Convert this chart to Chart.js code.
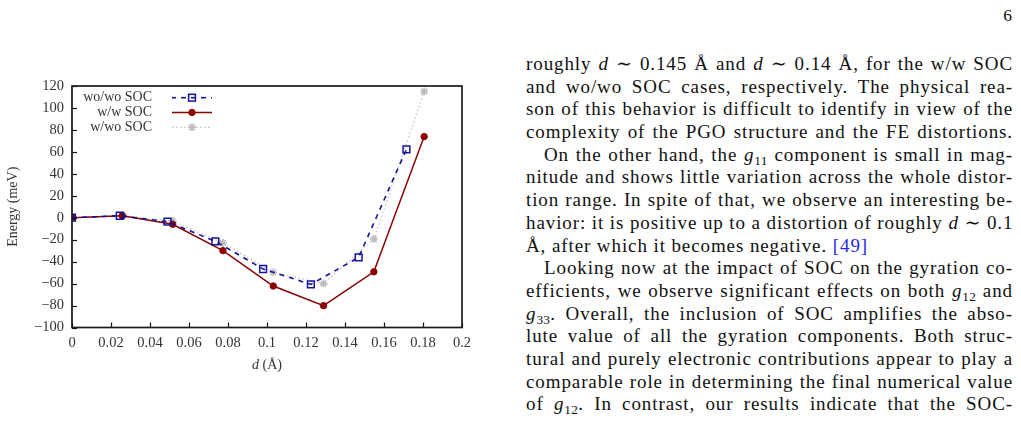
<!DOCTYPE html>
<html>
<head>
<meta charset="utf-8">
<script src="https://cdn.jsdelivr.net/npm/chart.js@4/dist/chart.umd.min.js"></script>
<style>
  html, body { margin:0; padding:0; background:#fff; }
  body { width:1021px; height:423px; position:relative; overflow:hidden; }
  #chartBox { position:absolute; left:0; top:0; width:500px; height:423px; }
  #text { position:absolute; left:526px; top:53px; width:487px;
          font-family:"Liberation Serif", "DejaVu Serif", serif; font-size:19px;
          letter-spacing:0.9px;
          line-height:22.7px; color:#111; }
  #text .l { white-space:nowrap; text-align:justify; text-align-last:justify; height:22.7px; }
  #text .l.last { text-align-last:left; }
  #text .ind { padding-left:18px; }
  #text i { font-style:italic; }
  #text sub { font-size:70%; line-height:0; vertical-align:-0.28em; letter-spacing:0.3px; }
  #text .ref { color:#2a2ae0; }
  #pg { position:absolute; right:9px; top:5px; font-family:"Liberation Serif", serif;
        font-size:17.5px; line-height:20px; color:#111; }
</style>
</head>
<body>
<div id="pg">6</div>
<div id="chartBox"><canvas id="c" width="500" height="423"></canvas></div>
<div id="text">
  <div class="l">roughly <i>d</i> ∼ 0.145 Å and <i>d</i> ∼ 0.14 Å, for the w/w SOC</div>
  <div class="l">and wo/wo SOC cases, respectively. The physical rea-</div>
  <div class="l">son of this behavior is difficult to identify in view of the</div>
  <div class="l">complexity of the PGO structure and the FE distortions.</div>
  <div class="l ind">On the other hand, the <i>g</i><sub>11</sub> component is small in mag-</div>
  <div class="l">nitude and shows little variation across the whole distor-</div>
  <div class="l">tion range. In spite of that, we observe an interesting be-</div>
  <div class="l">havior: it is positive up to a distortion of roughly <i>d</i> ∼ 0.1</div>
  <div class="l last">Å, after which it becomes negative. <span class="ref">[49]</span></div>
  <div class="l ind">Looking now at the impact of SOC on the gyration co-</div>
  <div class="l">efficients, we observe significant effects on both <i>g</i><sub>12</sub> and</div>
  <div class="l"><i>g</i><sub>33</sub>. Overall, the inclusion of SOC amplifies the abso-</div>
  <div class="l">lute value of all the gyration components. Both struc-</div>
  <div class="l">tural and purely electronic contributions appear to play a</div>
  <div class="l">comparable role in determining the final numerical value</div>
  <div class="l">of <i>g</i><sub>12</sub>. In contrast, our results indicate that the SOC-</div>
</div>
<script>
// ---- data ----
const seriesNames = ['wo/wo SOC', 'w/w SOC', 'w/wo SOC'];
const dWoWo = [0, 0.0245, 0.049, 0.0735, 0.098, 0.1225, 0.147, 0.1715];
const eWoWo = [0, 1.8, -3.6, -21.5, -46.7, -60.7, -36.1, 62.3];
const dWW   = [0, 0.0258, 0.0516, 0.0774, 0.1032, 0.129, 0.1548, 0.1806];
const eWW   = [0, 1.8, -6.0, -30.0, -62.2, -80.1, -49.3, 73.9];
const dWWo  = [0, 0.0258, 0.0516, 0.0774, 0.1032, 0.129, 0.1548, 0.1806];
const eWWo  = [0, 2.0, -3.0, -23.0, -49.7, -60.0, -19.4, 115.0];
const xTickMin = 0, xTickMax = 0.2, xTickStep = 0.02;
const yTickMin = -100, yTickMax = 120, yTickStep = 20;
const xTitle = ['d', ' (Å)'];
const yTitle = 'Energy (meV)';

const pts = (xs, ys) => xs.map((x, i) => ({x: x, y: ys[i]}));
const SERIF = '"Liberation Serif", "DejaVu Serif", serif';

const framePlugin = {
  id: 'frame',
  afterDraw(chart) {
    const {ctx, chartArea: a, scales} = chart;
    ctx.save();
    // inward tick marks on left and bottom axes
    ctx.strokeStyle = '#111'; ctx.lineWidth = 1.2;
    scales.y.ticks.forEach(t => {
      const py = Math.round(scales.y.getPixelForValue(t.value)) + 0.5;
      ctx.beginPath(); ctx.moveTo(a.left, py); ctx.lineTo(a.left + 5, py); ctx.stroke();
    });
    scales.x.ticks.forEach(t => {
      const px = Math.round(scales.x.getPixelForValue(t.value)) + 0.5;
      ctx.beginPath(); ctx.moveTo(px, a.bottom); ctx.lineTo(px, a.bottom - 5); ctx.stroke();
    });
    // frame
    ctx.strokeStyle = '#1a1a1a'; ctx.lineWidth = 1.7;
    ctx.strokeRect(a.left, a.top, a.right - a.left, a.bottom - a.top);
    // x axis title with italic d
    ctx.fillStyle = '#333';
    ctx.textBaseline = 'middle';
    ctx.font = 'italic 14px ' + SERIF;
    const w1 = ctx.measureText(xTitle[0]).width;
    ctx.font = '14px ' + SERIF;
    const w2 = ctx.measureText(xTitle[1]).width;
    const cx = (a.left + a.right) / 2, ty = 365;
    let sx = cx - (w1 + w2) / 2;
    ctx.textAlign = 'left';
    ctx.font = 'italic 14px ' + SERIF;
    ctx.fillText(xTitle[0], sx, ty);
    ctx.font = '14px ' + SERIF;
    ctx.fillText(xTitle[1], sx + w1, ty);
    // legend (text right-aligned, sample on the right)
    const rows = [97.7, 112.5, 127.3];
    chart.data.datasets.forEach((ds, i) => {
      const y = rows[i];
      ctx.fillStyle = '#333';
      ctx.font = '14px ' + SERIF;
      ctx.textAlign = 'right';
      ctx.textBaseline = 'middle';
      ctx.fillText(ds.label, 152, y);
      ctx.strokeStyle = ds.borderColor;
      ctx.lineWidth = ds.borderWidth;
      ctx.setLineDash(ds.borderDash || []);
      ctx.lineDashOffset = ds.legendDashOffset || 0;
      ctx.beginPath(); ctx.moveTo(172, y); ctx.lineTo(212, y); ctx.stroke();
      ctx.setLineDash([]);
      const mx = 192, r = ds.pointRadius;
      ctx.strokeStyle = ds.pointBorderColor; ctx.fillStyle = ds.pointBackgroundColor;
      ctx.lineWidth = ds.pointBorderWidth;
      if (ds.pointStyle === 'rect') {
        const s = r * Math.SQRT1_2;
        ctx.strokeRect(mx - s, y - s, 2 * s, 2 * s);
      } else if (ds.pointStyle === 'circle') {
        ctx.beginPath(); ctx.arc(mx, y, r, 0, Math.PI * 2); ctx.fill(); ctx.stroke();
      } else if (ds.pointStyle === 'star') {
        ctx.beginPath();
        for (let k = 0; k < 4; k++) {
          const ang = k * Math.PI / 4;
          ctx.moveTo(mx - r * Math.cos(ang), y - r * Math.sin(ang));
          ctx.lineTo(mx + r * Math.cos(ang), y + r * Math.sin(ang));
        }
        ctx.stroke();
      }
    });
    ctx.restore();
  }
};

new Chart(document.getElementById('c'), {
  type: 'scatter',
  data: {
    datasets: [
      { label: seriesNames[0], data: pts(dWoWo, eWoWo), showLine: true,
        borderColor: '#14149a', borderWidth: 1.6, borderDash: [5, 5], legendDashOffset: 1,
        pointStyle: 'rect', pointRadius: 4.8, pointBorderWidth: 1.5,
        pointBorderColor: '#14149a', pointBackgroundColor: 'rgba(0,0,0,0)' },
      { label: seriesNames[1], data: pts(dWW, eWW), showLine: true,
        borderColor: '#8b0000', borderWidth: 1.5,
        pointStyle: 'circle', pointRadius: 3.2, pointBorderWidth: 1,
        pointBorderColor: '#8b0000', pointBackgroundColor: '#8b0000' },
      { label: seriesNames[2], data: pts(dWWo, eWWo), showLine: true,
        borderColor: '#c0c0c0', borderWidth: 1.2, borderDash: [1.5, 2.5],
        pointStyle: 'star', pointRadius: 4, pointBorderWidth: 1.6,
        pointBorderColor: '#bdbdbd', pointBackgroundColor: '#bdbdbd' }
    ]
  },
  options: {
    responsive: false,
    animation: false,
    devicePixelRatio: 1,
    layout: { padding: { left: 5, top: 86, right: 38, bottom: 49 } },
    plugins: { legend: { display: false }, tooltip: { enabled: false } },
    elements: { line: { tension: 0 } },
    scales: {
      x: {
        type: 'linear', min: xTickMin, max: xTickMax,
        grid: { display: false, drawTicks: false }, border: { display: false },
        ticks: { stepSize: xTickStep, padding: 7, color: '#333', maxRotation: 0,
                 autoSkip: false, font: { family: SERIF, size: 14.5 },
                 callback: v => String(Math.round(v * 100) / 100) },
        afterFit: s => { s.height = 46.5; }
      },
      y: {
        type: 'linear', min: yTickMin, max: yTickMax,
        grid: { display: false, drawTicks: false }, border: { display: false },
        ticks: { stepSize: yTickStep, padding: 8, color: '#333', autoSkip: false,
                 font: { family: SERIF, size: 14.5 },
                 callback: v => (v < 0 ? '\u2212' + Math.abs(v) : String(v)) },
        title: { display: true, text: yTitle, color: '#333', padding: 0,
                 font: { family: SERIF, size: 14 } },
        afterFit: s => { s.width = 67; }
      }
    }
  },
  plugins: [framePlugin]
});
</script>
</body>
</html>
